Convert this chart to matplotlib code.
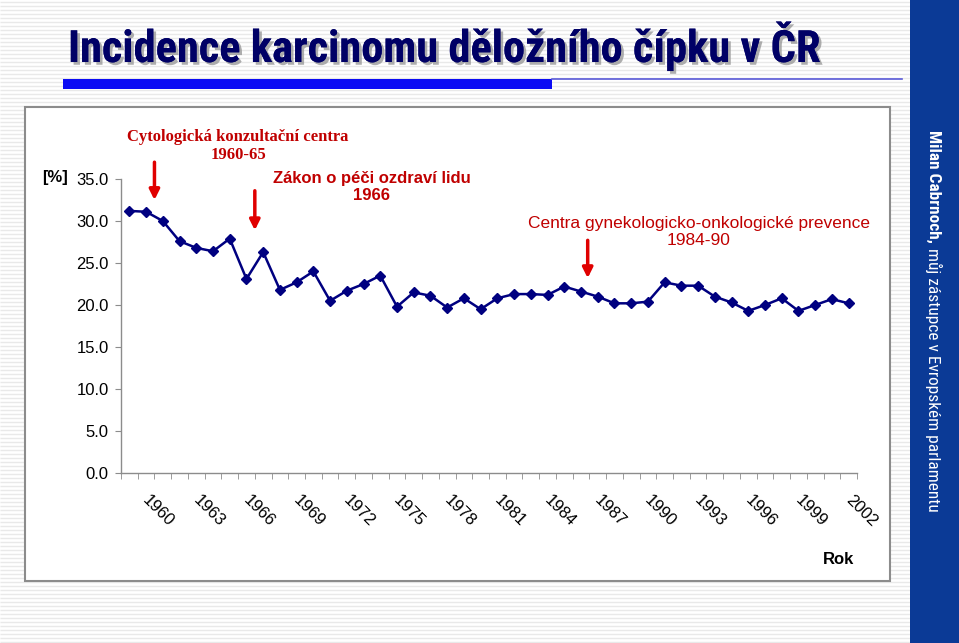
import numpy as np
import matplotlib
matplotlib.use('Agg')
import matplotlib.pyplot as plt
import matplotlib.patheffects as pe
from matplotlib import font_manager
from matplotlib.font_manager import FontProperties
from matplotlib.patches import Rectangle
from matplotlib.transforms import ScaledTranslation

# Incidence [%] by year, 1960-2003
years = list(range(1960, 2004))
incidence = [31.2, 31.1, 30.0, 27.6, 26.8, 26.4, 27.9, 23.1, 26.3, 21.8,
             22.7, 24.0, 20.5, 21.7, 22.5, 23.5, 19.8, 21.5, 21.1, 19.7,
             20.8, 19.5, 20.8, 21.3, 21.3, 21.2, 22.2, 21.6, 21.0, 20.2,
             20.2, 20.4, 22.7, 22.3, 22.3, 21.0, 20.3, 19.3, 20.0, 20.8,
             19.3, 20.0, 20.7, 20.2]
year_labels = [str(y) for y in range(1960, 2003, 3)]
y_ticks = [0, 5, 10, 15, 20, 25, 30, 35]

# events marked with arrows (category position, arrow top, arrow tip)
event_pos = [1.5, 7.5, 27.4]
event_top = [37.0, 33.6, 27.7]
event_tip = [32.5, 28.9, 23.2]

W, H = 959, 643


def fx(x):
    return x / W


def fy(y):
    return 1 - y / H


def find_narrow(bold):
    # look for a narrow / condensed sans font file, else plain sans
    files = [f.fname for f in font_manager.fontManager.ttflist]
    prefs = ['LiberationSansNarrow', 'RobotoCondensed', 'NotoSans-Condensed',
             'OpenSans_Condensed', 'OpenSansCondensed', 'DejaVuSansCondensed']
    for p in prefs:
        for fn in sorted(files):
            base = fn.split('/')[-1].replace(' ', '')
            if not base.startswith(p):
                continue
            is_bold = 'Bold' in base and 'Semi' not in base and 'Extra' not in base
            is_plain = ('Regular' in base or base.split('.')[0] == p
                        or base.split('.')[0].endswith('Condensed')
                        or base.split('.')[0].endswith('Narrow'))
            if 'Italic' in base:
                continue
            if (bold and is_bold) or (not bold and is_plain and 'Bold' not in base):
                return FontProperties(fname=fn)
    return FontProperties(family=['Liberation Sans', 'DejaVu Sans'],
                          weight='bold' if bold else 'normal')


narrow_bold = find_narrow(True)
narrow_reg = find_narrow(False)

fig = plt.figure(figsize=(W / 100, H / 100), dpi=100)
fig.patch.set_facecolor('white')

# striped slide background
bg = fig.add_axes([0, 0, 1, 1])
bg.set_xlim(0, W)
bg.set_ylim(H, 0)
bg.axis('off')
bg.hlines(np.arange(1.5, H, 4), 0, W, color='#e9e9e9', lw=1.0, zorder=1)
bg.add_patch(Rectangle((25, 107), 865, 474, facecolor='white', edgecolor='#8c8c8c', lw=1.5, zorder=3))
bg.add_patch(Rectangle((910, 0), 49, H, facecolor='#0b3a96', edgecolor='none', zorder=3))
bg.add_patch(Rectangle((63, 79), 489, 10, facecolor='#0c0cf4', edgecolor='none', zorder=3))
bg.plot([552, 902], [78.5, 78.5], color='#5a5ad8', lw=1.2, zorder=3)

title = fig.text(fx(68), fy(62), 'Incidence karcinomu děložního čípku v ČR',
                 fontproperties=narrow_bold, fontsize=32, color='#000066',
                 ha='left', va='baseline',
                 path_effects=[pe.withSimplePatchShadow(offset=(2, -2), shadow_rgbFace='#9a9a9a', alpha=0.8),
                               pe.Normal()])
fig.canvas.draw()
tw = title.get_window_extent().width
if tw > 775:
    title.set_fontsize(32 * 770 / tw)

# banner text, read top to bottom
t1 = fig.text(fx(934), fy(130), 'Milan Cabrnoch,', fontproperties=narrow_bold, fontsize=16,
              color='white', rotation=-90, rotation_mode='anchor', ha='left', va='center')
t2 = fig.text(fx(934), fy(300), 'můj zástupce v Evropském parlamentu', fontproperties=narrow_reg,
              fontsize=16, color='white', rotation=-90, rotation_mode='anchor',
              ha='left', va='center')
fig.canvas.draw()
total = t1.get_window_extent().height + 6 + t2.get_window_extent().height
if total > 385:
    k = 380 / total
    t1.set_fontsize(16 * k)
    t2.set_fontsize(16 * k)
fig.canvas.draw()
ext = t1.get_window_extent()
t2.set_position((fx(934), (ext.y0 - 6 * t1.get_fontsize() / 16) / H))

# chart
ax = fig.add_axes([fx(121), fy(473), (857 - 121) / W, (473 - 179) / H])
ax.patch.set_alpha(0)
x = np.arange(len(years))
ax.plot(x, incidence, color='#000080', lw=1.8, marker='D', markersize=5.5,
        markerfacecolor='#000080', markeredgecolor='#000080')
ax.set_xlim(-0.5, len(years) - 0.5)
ax.set_ylim(0, 35)
ax.set_yticks(y_ticks)
ax.set_yticklabels(['%.1f' % v for v in y_ticks])
ax.set_xticks(np.arange(0, 43, 3))
ax.set_xticklabels(year_labels, rotation=-45, rotation_mode='anchor', ha='left', va='center')
ax.set_xticks(np.arange(-0.5, len(years) + 0.5, 1), minor=True)
for s in ['top', 'right']:
    ax.spines[s].set_visible(False)
for s in ['left', 'bottom']:
    ax.spines[s].set_color('#8c8c8c')
    ax.spines[s].set_linewidth(1.0)
ax.tick_params(axis='y', length=4, color='#8c8c8c', labelsize=12, pad=5, labelcolor='black')
ax.tick_params(axis='x', which='major', length=0, labelsize=12, pad=18)
ax.tick_params(axis='x', which='minor', length=4, color='#8c8c8c')
for lab in ax.get_xticklabels():
    lab.set_transform(lab.get_transform() + ScaledTranslation(0.16, 0, fig.dpi_scale_trans))
for lab in ax.get_yticklabels() + ax.get_xticklabels():
    lab.set_family(['Liberation Sans', 'DejaVu Sans'])

for px, top, tip in zip(event_pos, event_top, event_tip):
    ax.annotate('', xy=(px, tip), xytext=(px, top), annotation_clip=False,
                arrowprops=dict(arrowstyle='-|>,head_length=0.6,head_width=0.3',
                                color='#e00000', lw=2.5, shrinkA=0, shrinkB=0))

red = '#c00000'
sans = ['Liberation Sans', 'DejaVu Sans']
fig.text(fx(238), fy(146), 'Cytologická konzultační centra\n1960-65',
         family=['Liberation Serif', 'DejaVu Serif'], fontsize=12, fontweight='bold',
         color=red, ha='center', va='center', linespacing=1.15)
fig.text(fx(372), fy(187), 'Zákon o péči ozdraví lidu\n1966', family=sans, fontsize=12,
         fontweight='bold', color=red, ha='center', va='center', linespacing=1.1)
fig.text(fx(699), fy(232), 'Centra gynekologicko-onkologické prevence\n1984-90', family=sans,
         fontsize=12.5, color=red, ha='center', va='center', linespacing=1.1)
fig.text(fx(55), fy(177), '[%]', family=sans, fontsize=12, fontweight='bold',
         ha='center', va='center')
fig.text(fx(838), fy(560), 'Rok', family=sans, fontsize=12, fontweight='bold',
         ha='center', va='center')

fig.savefig('out.png', dpi=100)
